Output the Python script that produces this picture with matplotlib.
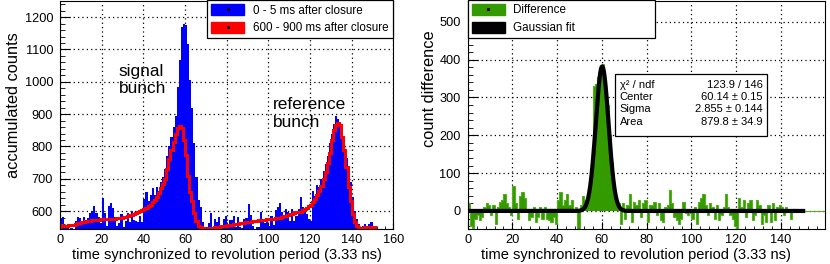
import numpy as np
import matplotlib.pyplot as plt
from matplotlib.patches import Patch, Rectangle
from matplotlib.lines import Line2D
from matplotlib.ticker import MultipleLocator, AutoMinorLocator

plt.rcParams['font.family'] = ['Liberation Sans', 'DejaVu Sans']

# 160 bins of width 1 (units of 3.33 ns)
edges = np.arange(0, 161)

# 0 - 5 ms after closure
blue = [576, 583, 548, 552, 546, 548, 543, 570, 582, 579,
        556, 582, 560, 579, 595, 601, 617, 593, 583, 564,
        639, 595, 555, 615, 626, 611, 582, 553, 564, 590,
        551, 568, 595, 567, 599, 571, 568, 566, 584, 567,
        636, 660, 630, 650, 672, 650, 675, 662, 690, 705,
        730, 770, 800, 830, 860, 895, 985, 1067, 1170, 1180,
        1175, 1118, 1005, 920, 810, 706, 634, 613, 567, 548,
        552, 562, 593, 550, 575, 566, 582, 556, 574, 585,
        553, 572, 573, 584, 550, 581, 552, 549, 574, 580,
        621, 587, 553, 544, 551, 551, 597, 567, 563, 569,
        555, 586, 556, 603, 614, 625, 597, 574, 606, 598,
        570, 607, 569, 586, 607, 643, 612, 596, 590, 575,
        570, 663, 648, 680, 675, 700, 725, 745, 770, 810,
        840, 870, 893, 885, 870, 845, 810, 765, 720, 690,
        645, 600, 575, 560, 550, 553, 560, 555, 560, 565,
        550, 545, 535, 535, 535, 535, 535, 535, 535, 535]

# 600 - 900 ms after closure
red = [556, 555, 554, 555, 556, 557, 558, 560, 562, 564,
       566, 567, 568, 569, 570, 571, 572, 573, 573, 574,
       574, 575, 575, 575, 576, 576, 577, 578, 579, 580,
       581, 583, 585, 587, 589, 591, 593, 596, 599, 602,
       606, 610, 615, 620, 627, 635, 645, 657, 670, 685,
       700, 730, 760, 790, 815, 840, 858, 862, 858, 820,
       775, 710, 660, 630, 595, 568, 555, 550, 547, 546,
       546, 547, 548, 549, 550, 551, 552, 553, 554, 555,
       556, 557, 558, 559, 560, 561, 562, 563, 564, 565,
       566, 567, 568, 569, 570, 571, 572, 572, 573, 574,
       575, 576, 577, 578, 579, 580, 582, 584, 586, 588,
       590, 592, 594, 596, 597, 598, 602, 606, 610, 615,
       620, 628, 638, 650, 662, 678, 698, 720, 748, 780,
       820, 850, 866, 872, 865, 830, 790, 735, 675, 630,
       592, 567, 555, 547, 546, 548, 551, 552, 552, 551,
       550, 542, 541, 541, 541, 541, 541, 541, 541, 541]

# difference histogram (right panel)
diff = [20, -40, -45, -20, -10, -25, -15, 10, 20, 15,
        -10, 15, -35, 10, 25, 30, 45, 20, 10, -10,
        65, 20, -20, 40, 50, 35, 5, -25, -15, 10,
        -30, -15, 10, -20, 10, -20, -25, -30, -15, -35,
        30, 50, 15, 30, 45, 15, 30, 5, 10, -50,
        15, 40, 30, 25, 55, 135, 330, 335, 355, 370,
        388, 330, 280, 200, 130, 60, 25, 20, -35, 20,
        -20, 15, 45, -30, 25, 15, 30, -15, 20, 30,
        -30, 15, 15, 25, -10, 20, -25, -30, 10, 15,
        55, 20, -15, -25, -35, -20, 25, -5, -10, -5,
        -20, 10, -35, 25, 35, 45, 15, -10, 20, 10,
        -20, 15, -25, -10, 10, 45, 10, -10, -20, -40,
        -50, 35, 10, 30, -15, 20, 30, -25, -10, 30,
        15, -35, -10, -30, 15, -30, 20, -25, 10, 15,
        10, -10, 10, 5, -20, 5, 5, 2, 2, 3,
        0, 0, 0, 0, 0, 0, 0, 0, 0, 0]

# gaussian fit
fit_center = 60.14
fit_sigma = 2.855
fit_peak = 382
fit_range = (0, 150)

stats_names = ['\u03c7\u00b2 / ndf', 'Center', 'Sigma', 'Area']
stats_values = ['123.9 / 146', '60.14 \u00b1 0.15', '2.855 \u00b1 0.144', '879.8 \u00b1 34.9']

green = '#339a00'
grid_style = dict(color='black', linestyle=(0, (1, 2.5)), linewidth=0.9)


def style_axes(ax, ymajor):
    ax.xaxis.set_major_locator(MultipleLocator(20))
    ax.xaxis.set_minor_locator(AutoMinorLocator(5))
    ax.yaxis.set_major_locator(MultipleLocator(ymajor))
    ax.yaxis.set_minor_locator(AutoMinorLocator(5))
    ax.tick_params(axis='both', which='both', direction='in', labelsize=9.2)
    ax.tick_params(axis='x', which='major', length=5, pad=3.5)
    ax.tick_params(axis='x', which='minor', length=2.5)
    ax.tick_params(axis='y', which='major', length=7.5, pad=5)
    ax.tick_params(axis='y', which='minor', length=3.7)
    ax.grid(True, which='major', **grid_style)
    ax.set_axisbelow(True)
    for sp in ax.spines.values():
        sp.set_linewidth(0.8)


fig = plt.figure(figsize=(8.3, 2.64), dpi=100)

# left panel
ax1 = fig.add_axes([0.0723, 0.1307, 0.4016, 0.8655])
ax1.stairs(blue, edges, fill=True, baseline=500, color='blue', lw=0)
ax1.stairs(red, edges, color='red', lw=2.2)
ax1.set_xlim(0, 160)
ax1.set_ylim(543, 1250)
style_axes(ax1, 100)

ax1.text(28.3, 1055, 'signal\nbunch', fontsize=12.4, va='top', ha='left')
ax1.text(102.3, 952, 'reference\nbunch', fontsize=12.4, va='top', ha='left')

dot = Line2D([], [], marker='s', ms=1.2, color='black', ls='')
leg1 = ax1.legend([(Patch(fc='blue', ec='blue'), dot), (Patch(fc='red', ec='red'), dot)],
                  ['0 - 5 ms after closure', '600 - 900 ms after closure'],
                  loc='lower left', bbox_to_anchor=(0.441, 0.836, 0.559, 0.164),
                  mode='expand', fontsize=8.4, handlelength=2.85, handleheight=1.08,
                  handletextpad=0.7, borderpad=0.35, labelspacing=0.45,
                  borderaxespad=0, fancybox=False, framealpha=1, edgecolor='black')
leg1.get_frame().set_linewidth(0.9)

# right panel
ax2 = fig.add_axes([0.5635, 0.1307, 0.4305, 0.8655])
ax2.stairs(diff, edges, fill=True, baseline=0, color=green, lw=0)
ax2.stairs(diff, edges, color='#55b020', lw=0.8)
xf = np.linspace(fit_range[0], fit_range[1], 600)
yf = fit_peak * np.exp(-0.5 * ((xf - fit_center) / fit_sigma) ** 2)
ax2.plot(xf, yf, color='black', lw=3)
ax2.set_xlim(0, 159.8)
ax2.set_ylim(-49, 555)
style_axes(ax2, 100)

leg2 = ax2.legend([(Patch(fc=green, ec=green), dot), Patch(fc='black', ec='black')],
                  ['Difference', 'Gaussian fit'],
                  loc='lower left', bbox_to_anchor=(0.0, 0.837, 0.524, 0.163),
                  mode='expand', fontsize=8.4, handlelength=2.85, handleheight=1.08,
                  handletextpad=0.7, borderpad=0.35, labelspacing=0.45,
                  borderaxespad=0, fancybox=False, framealpha=1, edgecolor='black')
leg2.get_frame().set_linewidth(0.9)

# fit statistics box
ax2.add_patch(Rectangle((0.412, 0.410), 0.426, 0.271, transform=ax2.transAxes,
                        fc='white', ec='black', lw=0.9, zorder=5))
for i, (name, val) in enumerate(zip(stats_names, stats_values)):
    yy = 0.633 - i * 0.0535
    ax2.text(0.425, yy, name, transform=ax2.transAxes, fontsize=8,
             va='center', ha='left', zorder=6)
    ax2.text(0.826, yy, val, transform=ax2.transAxes, fontsize=8,
             va='center', ha='right', zorder=6)

# axis titles
xlabel = 'time synchronized to revolution period (3.33 ns)'
fig.text(226.5 / 830, 1 - 255 / 264, xlabel, fontsize=10.5, ha='center', va='center')
fig.text(635.5 / 830, 1 - 255 / 264, xlabel, fontsize=10.5, ha='center', va='center')
fig.text(14 / 830, 1 - 105 / 264, 'accumulated counts', fontsize=11.8,
         rotation=90, ha='center', va='center')
fig.text(429 / 830, 1 - 88.5 / 264, 'count difference', fontsize=11.8,
         rotation=90, ha='center', va='center')

fig.savefig('out.png', dpi=100)
